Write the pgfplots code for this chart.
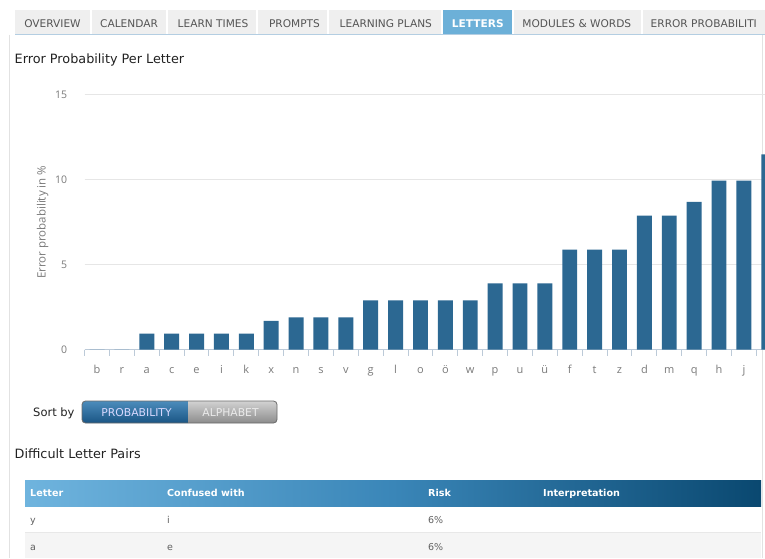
\documentclass[border=0pt]{standalone}
\usepackage{pgfplots}
\usepackage{pgfplotstable}
\pgfplotsset{compat=1.18}
\usepackage{fontspec}
\setmainfont{DejaVu Sans}
\newfontfamily\axisfont{Open Sans}
\definecolor{barc}{HTML}{2C6892}
\definecolor{gridc}{HTML}{E6E6E6}
\definecolor{axisc}{HTML}{BCCAD8}
\definecolor{labc}{HTML}{7A7A7A}
\definecolor{tabbg}{HTML}{EFEFEF}
\definecolor{tabtxt}{HTML}{555555}
\definecolor{tabact}{HTML}{6CB0D8}
\definecolor{tabline}{HTML}{B4CEE2}
\definecolor{framec}{HTML}{E2E2E2}
\definecolor{hdrL}{HTML}{6FB4DE}
\definecolor{hdrM}{HTML}{3A86B8}
\definecolor{hdrR}{HTML}{0A4870}
\definecolor{rowtxt}{HTML}{606060}
\definecolor{rowalt}{HTML}{F5F5F5}
\definecolor{rowline}{HTML}{E8E8E8}
\definecolor{btnTop}{HTML}{4C8CBC}
\definecolor{btnBot}{HTML}{1A5584}
\definecolor{gryTop}{HTML}{D2D2D2}
\definecolor{gryBot}{HTML}{8C8C8C}
\definecolor{btnEdge}{HTML}{6A6A6A}
\definecolor{headc}{HTML}{222222}
\newcommand{\fs}[1]{\fontsize{#1pt}{#1pt}\selectfont}

\pgfplotstableread{
x y
0 0
1 0
2 0.95
3 0.95
4 0.95
5 0.95
6 0.95
7 1.7
8 1.9
9 1.9
10 1.9
11 2.9
12 2.9
13 2.9
14 2.9
15 2.9
16 3.9
17 3.9
18 3.9
19 5.9
20 5.9
21 5.9
22 7.9
23 7.9
24 8.7
25 9.95
26 9.95
27 11.5
}\letterdata

\begin{document}
\begin{tikzpicture}
\useasboundingbox (0pt,0pt) rectangle (765pt,558pt);
\fill[white] (0pt,0pt) rectangle (765pt,558pt);

\begin{scope}[x=1pt,y=-1pt,yshift=558pt]
  \draw[framec, line width=1pt] (9,35) -- (9,558);
  \draw[framec, line width=1pt] (762.5,10) -- (762.5,558);
  \fill[tabbg] (15,10) rectangle (765,34);
  \foreach \s in {91,167,257,328,442,513,642}
    \fill[white] (\s-0.8,10) rectangle (\s+0.8,34);
  \fill[tabact] (443,10) rectangle (512,34);
  \draw[tabline, line width=1.5pt] (15,34.5) -- (765,34.5);
  \begin{scope}[every node/.style={anchor=base, text=tabtxt, font=\fs{10.6}, inner sep=0pt}]
    \node at (52.5,28) {OVERVIEW};
    \node at (129,28) {CALENDAR};
    \node at (213,28) {LEARN TIMES};
    \node at (294.5,28) {PROMPTS};
    \node at (385.8,28) {LEARNING PLANS};
    \node[text=white, font=\bfseries\fs{10.6}] at (477.8,28) {LETTERS};
    \node at (576.8,28) {MODULES \& WORDS};
    \node[anchor=base west] at (650.5,28) {ERROR PROBABILITI};
  \end{scope}
  \node[anchor=base west, inner sep=0pt, text=headc, font=\fs{12.8}] at (14.5,64) {Error Probability Per Letter};
\end{scope}

\begin{axis}[
  at={(84.6pt,208.3pt)}, anchor=south west,
  scale only axis, width=696.6pt, height=254.7pt,
  xmin=-0.5, xmax=27.5, ymin=0, ymax=15,
  clip=false,
  axis x line*=bottom, axis y line*=left,
  x axis line style={draw=axisc, line width=1pt},
  y axis line style={draw=none},
  ytick={0,5,10,15},
  ymajorgrids, grid style={draw=gridc, line width=1pt},
  ytick style={draw=none},
  xtick style={draw=none},
  xtick={0,...,27},
  xticklabels={b,r,a,c,e,i,k,x,n,s,v,g,l,o,ö,w,p,u,ü,f,t,z,d,m,q,h,j,{}},
  major tick length=0pt,
  xticklabel style={anchor=base, yshift=-24pt, font=\axisfont\fs{11}, text=labc},
  yticklabel style={anchor=east, xshift=-14pt, font=\axisfont\fs{10.5}, text=labc},
  /pgf/number format/assume math mode=true,
  ylabel={Error probability in \%},
  every axis y label/.style={at={(axis description cs:-0.0601,0.5)}, rotate=90, anchor=center, font=\axisfont\fs{11.5}, text=labc},
]
\addplot[ybar, bar width=0.6, fill=barc, draw=none] table[x=x,y=y]{\letterdata};
\pgfplotsinvokeforeach{-0.5,0.5,...,26.5}{
  \draw[axisc, line width=1pt] (axis cs:#1,0) -- ++(0pt,-6pt);
}
\end{axis}

\begin{scope}[x=1pt,y=-1pt,yshift=558pt]
  \node[anchor=base west, inner sep=0pt, text=headc, font=\fs{11.5}] at (33,416) {Sort by};
  \begin{scope}
    \clip[rounded corners=3.5pt] (82,401) rectangle (277,423);
    \shade[top color=btnTop, bottom color=btnBot] (82,401) rectangle (188,423);
    \shade[top color=gryTop, bottom color=gryBot] (188,401) rectangle (277,423);
  \end{scope}
  \draw[rounded corners=3.5pt, draw=btnEdge, line width=0.8pt] (82,401) rectangle (277,423);
  \node[anchor=base, inner sep=0pt, text=white!85!blue, font=\fs{10.8}] at (136.5,416) {PROBABILITY};
  \node[anchor=base, inner sep=0pt, text=white!92!black, font=\fs{10.8}] at (230.5,416) {ALPHABET};
  \node[anchor=base west, inner sep=0pt, text=headc, font=\fs{12.8}] at (14.5,458.5) {Difficult Letter Pairs};
  \shade[left color=hdrL, right color=hdrR, middle color=hdrM] (25,480) rectangle (761,506);
  \fill[rowalt] (25,532) rectangle (761,558);
  \draw[rowline, line width=0.8pt] (25,532) -- (761,532);
  \begin{scope}[every node/.style={anchor=base west, inner sep=0pt, text=white, font=\bfseries\fs{9.6}}]
    \node at (30,496.5) {Letter};
    \node at (167,496.5) {Confused with};
    \node at (428,496.5) {Risk};
    \node at (543,496.5) {Interpretation};
  \end{scope}
  \begin{scope}[every node/.style={anchor=base west, inner sep=0pt, text=rowtxt, font=\fs{9.5}}]
    \node at (30,523) {y};
    \node at (167,523) {i};
    \node at (428,523) {6\%};
    \node at (30,550) {a};
    \node at (167,550) {e};
    \node at (428,550) {6\%};
  \end{scope}
\end{scope}
\end{tikzpicture}
\end{document}
